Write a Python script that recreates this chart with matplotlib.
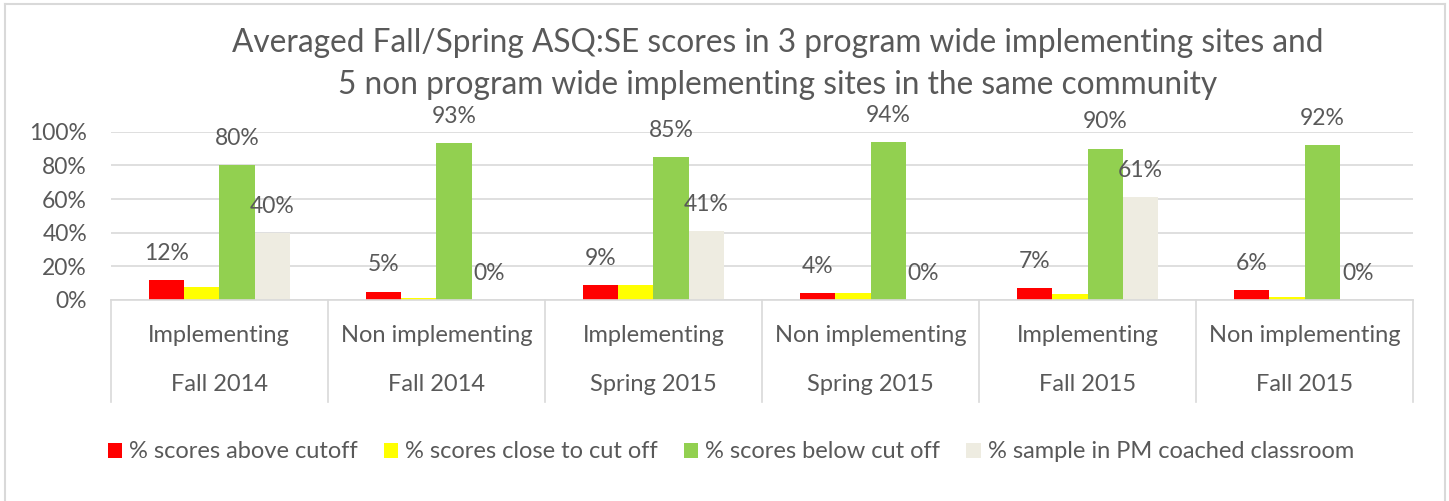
import matplotlib
matplotlib.use("Agg")
import matplotlib.pyplot as plt
import numpy as np
from matplotlib.lines import Line2D
from matplotlib.patches import Patch

plt.rcParams['font.family'] = ['Lato', 'DejaVu Sans']

groups = ["Implementing", "Non implementing", "Implementing", "Non implementing", "Implementing", "Non implementing"]
periods = ["Fall 2014", "Fall 2014", "Spring 2015", "Spring 2015", "Fall 2015", "Fall 2015"]
series_names = ["% scores above cutoff", "% scores close to cut off", "% scores below cut off",
                "% sample in PM coached classroom"]
above = [0.12, 0.05, 0.09, 0.04, 0.07, 0.06]
close = [0.075, 0.01, 0.09, 0.04, 0.035, 0.015]
below = [0.80, 0.93, 0.85, 0.94, 0.90, 0.92]
sample = [0.40, 0.00, 0.41, 0.00, 0.61, 0.00]
colors = ["#FF0000", "#FFFF00", "#92D050", "#EEECE1"]
show_labels = [True, False, True, True]

W, H = 1449, 501
fig = plt.figure(figsize=(W / 100, H / 100), dpi=100)
TXT = "#595959"
GRID = "#D9D9D9"

ax = fig.add_axes([110.7 / W, 1 - 300 / H, (1413.3 - 110.7) / W, (300 - 131.7) / H])

x = np.arange(len(groups))
bw = 0.1625
data = [above, close, below, sample]
for i, (vals, c, lab) in enumerate(zip(data, colors, show_labels)):
    pos = x + (i - 1.5) * bw
    ax.bar(pos, vals, width=bw, color=c, edgecolor='none', zorder=2, label=series_names[i])
    if lab:
        for px, v in zip(pos, vals):
            ax.annotate(f"{round(v * 100):d}%", (px, v), xytext=(0, 19.2), textcoords='offset points',
                        ha='center', va='center', fontsize=16.5, color=TXT, zorder=5)

ax.set_xlim(-0.5, len(groups) - 0.5)
ax.set_ylim(0, 1.0)
ax.set_yticks(np.arange(0, 1.01, 0.2))
ax.set_yticklabels([f"{int(round(t * 100))}%" for t in np.arange(0, 1.01, 0.2)])
ax.tick_params(axis='y', length=0, pad=17, labelsize=16.5, labelcolor=TXT)
ax.tick_params(axis='x', length=0, labelbottom=False)
ax.set_xticks([])
ax.grid(axis='y', color=GRID, linewidth=1.2, zorder=0)
for s in ['top', 'right', 'left']:
    ax.spines[s].set_visible(False)
ax.spines['bottom'].set_color(GRID)
ax.spines['bottom'].set_linewidth(1.2)

# multi-level category labels and separators
ax_h_px = 300 - 131.7
for b in np.arange(-0.5, len(groups), 1.0):
    ax.add_line(Line2D([b, b], [0, -102 / ax_h_px], transform=ax.get_xaxis_transform(),
                       color=GRID, linewidth=1.2, clip_on=False))
for xi, g, p in zip(x, groups, periods):
    ax.text(xi, -35 / ax_h_px, g, transform=ax.get_xaxis_transform(), ha='center', va='center',
            fontsize=17, color=TXT)
    ax.text(xi, -85 / ax_h_px, p, transform=ax.get_xaxis_transform(), ha='center', va='center',
            fontsize=17, color=TXT)

fig.text(778 / W, 1 - 43 / H, "Averaged Fall/Spring ASQ:SE scores in 3 program wide implementing sites and",
         ha='center', va='center', fontsize=22.8, color=TXT)
fig.text(778 / W, 1 - 85 / H, "5 non program wide implementing sites in the same community",
         ha='center', va='center', fontsize=22.8, color=TXT)

handles = [Patch(facecolor=c, edgecolor='none') for c in colors]
fig.legend(handles, series_names, loc='center', bbox_to_anchor=(731 / W, 1 - 452 / H), ncol=4,
           frameon=False, fontsize=17, labelcolor=TXT, handlelength=0.6, handleheight=0.6,
           handletextpad=0.3, columnspacing=1.1)

# chart border
for xs, ys in [([5, 5], [4, 510]), ([1445, 1445], [4, 510]), ([5, 1445], [4, 4])]:
    fig.add_artist(Line2D([v / W for v in xs], [1 - v / H for v in ys], transform=fig.transFigure,
                          color=GRID, linewidth=1.5))

fig.savefig("out.png", dpi=100)
